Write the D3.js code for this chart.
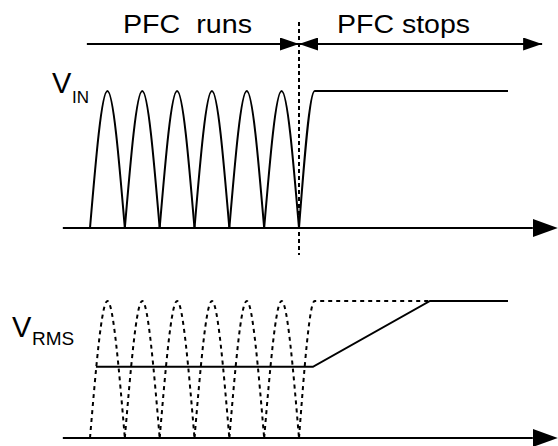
<!DOCTYPE html>
<html lang="en">
<head>
<meta charset="utf-8">
<title>PFC runs / stops</title>
<style>
  body { margin: 0; background: #fff; }
  text { font-family: "Liberation Sans", Arial, sans-serif; fill: #000; white-space: pre; }
</style>
</head>
<body>
<div id="chart"></div>
<script src="https://d3js.org/d3.v7.min.js"></script>
<script>
// time in half-periods of the mains, value as fraction of the peak
var humpStarts = [0, 1, 2, 3, 4, 5];   // rectified half waves while PFC runs
var peak = 1;
var stopTime = 6;                       // PFC switched off here
var riseEnd = 6.45;                     // input reaches the flat level
var flatEnd = 12;
var rmsLevel = 0.52;
var rmsStart = 0.17, rmsRampStart = 6.4, rmsRampEnd = 9.76;
var axisExtent = [-0.78, 13.43];
var labels = { runs: "PFC  runs", stops: "PFC stops" };

var width = 558, height = 446;

var svg = d3.select("#chart").append("svg")
    .attr("width", width)
    .attr("height", height);

var x = d3.scaleLinear().domain([0, 12]).range([90, 508]);
var yTop = d3.scaleLinear().domain([0, 1]).range([228, 91]);
var yBot = d3.scaleLinear().domain([0, 1]).range([438, 301]);

var defs = svg.append("defs");
defs.append("marker")
    .attr("id", "bigArrow")
    .attr("viewBox", "0 0 25 18")
    .attr("refX", 0).attr("refY", 9)
    .attr("markerWidth", 25).attr("markerHeight", 18)
    .attr("markerUnits", "userSpaceOnUse")
    .attr("orient", "auto")
    .append("path").attr("d", "M0,0L25,9L0,18Z").attr("fill", "#000");
defs.append("marker")
    .attr("id", "smallArrow")
    .attr("viewBox", "0 0 19 13")
    .attr("refX", 19).attr("refY", 6.5)
    .attr("markerWidth", 19).attr("markerHeight", 13)
    .attr("markerUnits", "userSpaceOnUse")
    .attr("orient", "auto-start-reverse")
    .append("path").attr("d", "M0,0L19,6.5L0,13Z").attr("fill", "#000");

// one hump = start, peak, end; monotone curve gives a near-sine shape
function hump(t0) { return [[t0, 0], [t0 + 0.5, peak], [t0 + 1, 0]]; }
var inputAfter = [[stopTime, 0], [riseEnd, peak], [flatEnd, peak]];

function wave(y) {
    return d3.line().x(function(d) { return x(d[0]); }).y(function(d) { return y(d[1]); })
        .curve(d3.curveMonotoneX);
}

// axes
[yTop, yBot].forEach(function(y) {
    svg.append("line")
        .attr("x1", x(axisExtent[0])).attr("x2", x(axisExtent[1]) - 25)
        .attr("y1", y(0)).attr("y2", y(0))
        .attr("stroke", "#000").attr("stroke-width", 2)
        .attr("marker-end", "url(#bigArrow)");
});

// top: V_IN
var gTop = svg.append("g").attr("fill", "none").attr("stroke", "#000").attr("stroke-width", 2);
humpStarts.forEach(function(t) {
    gTop.append("path").attr("d", wave(yTop)(hump(t)));
});
gTop.append("path").attr("d", wave(yTop)(inputAfter));

// bottom: dashed V_IN + solid V_RMS
var gBot = svg.append("g").attr("fill", "none").attr("stroke", "#000").attr("stroke-width", 2);
humpStarts.forEach(function(t) {
    gBot.append("path").attr("d", wave(yBot)(hump(t))).attr("stroke-dasharray", "4,4");
});
gBot.append("path")
    .attr("d", wave(yBot)([[stopTime, 0], [riseEnd, peak], [rmsRampEnd, peak]]))
    .attr("stroke-dasharray", "4,4");
gBot.append("path")
    .attr("d", d3.line().x(function(d) { return x(d[0]); }).y(function(d) { return yBot(d[1]); })(
        [[rmsStart, rmsLevel], [rmsRampStart, rmsLevel], [rmsRampEnd, peak], [flatEnd, peak]]));

// vertical dashed marker where PFC stops
svg.append("line")
    .attr("x1", x(stopTime)).attr("x2", x(stopTime))
    .attr("y1", 22).attr("y2", 255)
    .attr("stroke", "#000").attr("stroke-width", 2)
    .attr("stroke-dasharray", "4,3");

// top span arrows
var arrowY = 44;
svg.append("line")
    .attr("x1", x(-0.09)).attr("x2", x(stopTime))
    .attr("y1", arrowY).attr("y2", arrowY)
    .attr("stroke", "#000").attr("stroke-width", 2)
    .attr("marker-end", "url(#smallArrow)");
svg.append("line")
    .attr("x1", x(stopTime)).attr("x2", x(12.98))
    .attr("y1", arrowY).attr("y2", arrowY)
    .attr("stroke", "#000").attr("stroke-width", 2)
    .attr("marker-start", "url(#smallArrow)")
    .attr("marker-end", "url(#smallArrow)");

svg.append("text").attr("x", 123).attr("y", 33).style("font-size", "26px")
    .attr("textLength", 129).attr("lengthAdjust", "spacingAndGlyphs").text(labels.runs);
svg.append("text").attr("x", 337).attr("y", 33).style("font-size", "26px")
    .attr("textLength", 133).attr("lengthAdjust", "spacingAndGlyphs").text(labels.stops);

// signal names
var vin = svg.append("text").attr("x", 52).attr("y", 93).style("font-size", "29px");
vin.append("tspan").text("V");
vin.append("tspan").attr("x", 72).attr("y", 103).style("font-size", "17px").text("IN");

var vrms = svg.append("text").attr("x", 12).attr("y", 337).style("font-size", "29px");
vrms.append("tspan").text("V");
vrms.append("tspan").attr("x", 32).attr("y", 345).style("font-size", "19px").text("RMS");
</script>
</body>
</html>
